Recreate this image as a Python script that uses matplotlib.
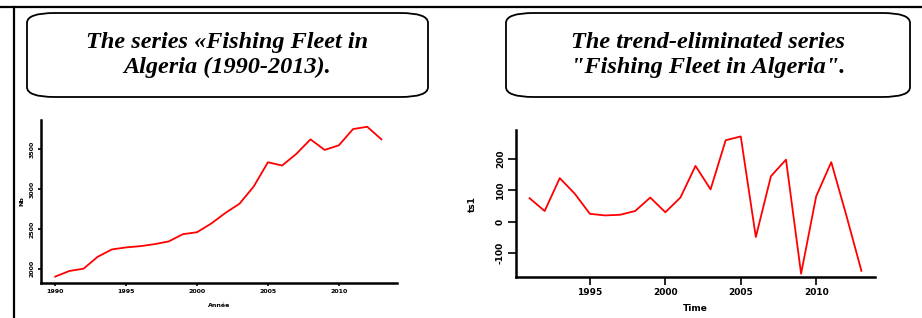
import matplotlib
matplotlib.use("Agg")
import matplotlib.pyplot as plt
from matplotlib.patches import FancyBboxPatch
from matplotlib.lines import Line2D

# original series
years = list(range(1990, 2014))
fleet = [1900, 1971, 2000, 2150, 2242, 2267, 2283, 2308, 2342, 2433, 2458, 2567,
         2700, 2817, 3033, 3337, 3296, 3442, 3625, 3492, 3550, 3754, 3783, 3625]

# trend-eliminated series (right panel)
years_d = list(range(1991, 2014))
fleet_d = [75, 34, 139, 89, 25, 20, 22, 34, 77, 30, 77, 178,
           103, 260, 272, -49, 145, 198, -166, 81, 190, 20, -157]

left_ticks = [1990, 1995, 2000, 2005, 2010]
left_yticks = [2000, 2500, 3000, 3500]
right_ticks = [1995, 2000, 2005, 2010]
right_yticks = [-100, 0, 100, 200]

W, H = 922, 318
fig = plt.figure(figsize=(W / 100, H / 100), dpi=100)


def fx(px):
    return px / W


def fy(py):
    return 1 - py / H


# outer frame lines
fig.add_artist(Line2D([0, 1], [fy(7), fy(7)], color="black", lw=1.6))
fig.add_artist(Line2D([fx(14), fx(14)], [fy(7), 0], color="black", lw=1.6))

# title boxes
for x0, x1, txt in [(27, 428, "The series «Fishing Fleet in\nAlgeria (1990-2013)."),
                    (506, 910, "The trend-eliminated series\n\"Fishing Fleet in Algeria\".")]:
    box = FancyBboxPatch((fx(x0), fy(97)), fx(x1 - x0), (97 - 13) / H,
                         boxstyle="round,pad=0,rounding_size=0.03",
                         transform=fig.transFigure, facecolor="white",
                         edgecolor="black", lw=1.3, mutation_aspect=H / W * 3)
    fig.add_artist(box)
    fig.text(fx((x0 + x1) / 2), fy(55), txt, ha="center", va="center",
             family="Liberation Serif", style="italic", weight="bold",
             fontsize=17.5, linespacing=1.2)


def style_axes(ax, size, length):
    for s in ["top", "right"]:
        ax.spines[s].set_visible(False)
    for s in ["left", "bottom"]:
        ax.spines[s].set_linewidth(1.8)
    ax.tick_params(width=1.2, length=length, labelsize=size, pad=2)
    for lab in ax.get_xticklabels() + ax.get_yticklabels():
        lab.set_fontweight("bold")


# left panel
ax1 = fig.add_axes([fx(41), fy(283), fx(397 - 41), (283 - 120) / H])
ax1.plot(years, fleet, color="red", lw=1.3)
ax1.set_xlim(1989.0, 2014.1)
ax1.set_ylim(1820, 3868)
ax1.set_xticks(left_ticks)
ax1.set_yticks(left_yticks)
ax1.set_yticklabels([str(v) for v in left_yticks], rotation=90, va="center")
ax1.set_xlabel("Année", fontsize=4.5, fontweight="bold", labelpad=6)
ax1.set_ylabel("Nb", fontsize=4.5, fontweight="bold", labelpad=4)
style_axes(ax1, 4.5, 2.5)

# right panel
ax2 = fig.add_axes([fx(516), fy(277), fx(875 - 516), (277 - 130) / H])
ax2.plot(years_d, fleet_d, color="red", lw=1.3)
ax2.set_xlim(1990.1, 2013.9)
ax2.set_ylim(-176.6, 292.6)
ax2.set_xticks(right_ticks)
ax2.set_yticks(right_yticks)
ax2.set_yticklabels([str(v) for v in right_yticks], rotation=90, va="center")
ax2.set_xlabel("Time", fontsize=6.5, fontweight="bold", labelpad=5)
ax2.set_ylabel("ts1", fontsize=6.5, fontweight="bold", labelpad=14)
style_axes(ax2, 6.5, 6)

fig.savefig("out.png", dpi=100)
